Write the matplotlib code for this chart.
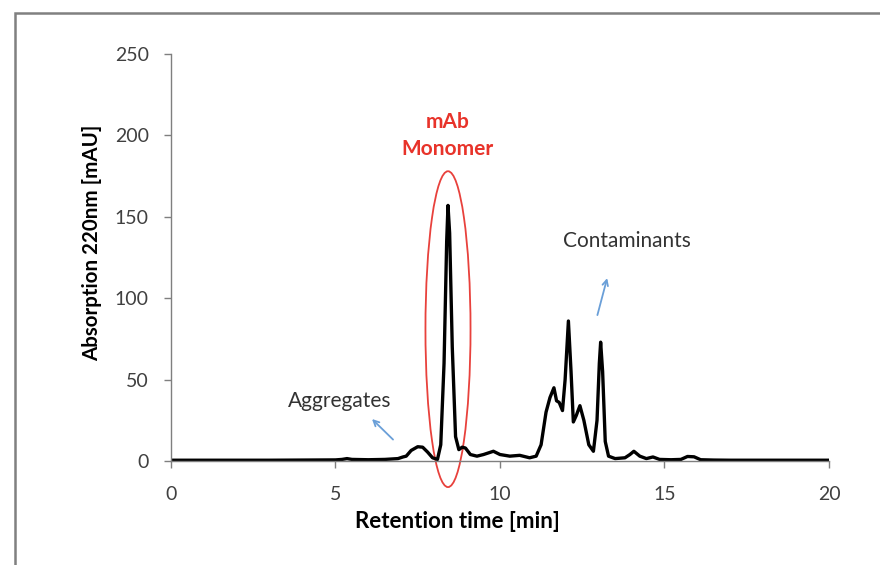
import matplotlib.pyplot as plt
from matplotlib.patches import Ellipse, Rectangle

# chromatogram (retention time [min], absorption [mAU])
time_min = [0, 1, 2, 3, 4, 5, 5.2, 5.35, 5.5, 6, 6.5, 6.9, 7.05, 7.15, 7.3, 7.5,
            7.65, 7.8, 7.95, 8.1, 8.2, 8.3, 8.38, 8.42, 8.47, 8.55, 8.65, 8.75,
            8.85, 8.95, 9.1, 9.3, 9.5, 9.8, 10.0, 10.3, 10.6, 10.9, 11.1, 11.25,
            11.4, 11.52, 11.64, 11.72, 11.8, 11.9, 11.98, 12.08, 12.16, 12.23,
            12.32, 12.43, 12.55, 12.7, 12.84, 12.95, 13.02, 13.06, 13.12, 13.2,
            13.3, 13.5, 13.8, 13.95, 14.07, 14.25, 14.45, 14.65, 14.85, 15.2,
            15.5, 15.7, 15.9, 16.1, 16.5, 17, 18, 19, 20]
absorption = [0.5, 0.5, 0.5, 0.5, 0.6, 0.7, 1.0, 1.5, 1.0, 0.8, 1.0, 1.5, 2.5,
              3.0, 6.5, 8.8, 8.5, 5.5, 2.0, 1.0, 10, 60, 135, 157, 140, 70, 15,
              7, 8.5, 8, 4, 3, 4, 6, 4, 3, 3.5, 2, 3, 10, 30, 39, 45, 37, 36,
              31, 50, 86, 55, 24, 28, 34, 25, 10, 6, 25, 60, 73, 55, 12, 3, 1.5,
              2, 4, 6, 3, 1.5, 2.5, 1.0, 0.8, 1.0, 2.8, 2.6, 0.8, 0.6, 0.5, 0.5,
              0.5, 0.5]

x_ticks = [0, 5, 10, 15, 20]
y_ticks = [0, 50, 100, 150, 200, 250]

font = 'Lato'
grey = '#7f7f7f'
tick_col = '#404040'
arrow_col = '#6a9fd8'

fig = plt.figure(figsize=(8.8, 5.65), dpi=100)
ax = fig.add_axes([0.1943, 0.184, 0.7477, 0.7204])

# frame around the figure (right/bottom edges run off the picture)
fig.patches.append(Rectangle((15 / 880, -0.05), 1.2, 1 - 13 / 565 + 0.05,
                             transform=fig.transFigure, fill=False,
                             edgecolor='#808080', lw=1.8))

ax.plot(time_min, absorption, color='black', lw=2.4, solid_joinstyle='round')

ax.set_xlim(0, 20)
ax.set_ylim(0, 250)
ax.set_xticks(x_ticks)
ax.set_yticks(y_ticks)
ax.spines['top'].set_visible(False)
ax.spines['right'].set_visible(False)
for s in ['left', 'bottom']:
    ax.spines[s].set_color(grey)
    ax.spines[s].set_linewidth(1.0)
ax.tick_params(axis='both', direction='out', length=5, width=1.0, color=grey,
               labelsize=14, labelcolor=tick_col)
ax.tick_params(axis='y', pad=11)
ax.tick_params(axis='x', pad=13)
for lab in ax.get_xticklabels() + ax.get_yticklabels():
    lab.set_family(font)

ax.set_xlabel('Retention time [min]', fontsize=16, fontweight='bold',
              family=font)
ax.set_ylabel('Absorption 220nm [mAU]', fontsize=14.8, fontweight='bold',
              family=font)
ax.xaxis.set_label_coords(0.436, -0.123)
ax.yaxis.set_label_coords(-0.104, 0.536)

# monomer ellipse + label
ax.add_patch(Ellipse((8.42, 81), 1.37, 194, fill=False, edgecolor='#e8413c',
                     lw=1.3, clip_on=False))
ax.text(8.42, 200, 'mAb\nMonomer', color='#e8332a', fontsize=15,
        fontweight='bold', family=font, ha='center', va='center',
        linespacing=1.4)

ax.text(13.86, 135, 'Contaminants', fontsize=15, family=font,
        color='#333333', ha='center', va='center')
ax.annotate('', xy=(13.28, 114), xytext=(12.94, 88),
            arrowprops=dict(arrowstyle='->', color=arrow_col, lw=1.3))

ax.text(5.13, 37, 'Aggregates', fontsize=15, family=font,
        color='#333333', ha='center', va='center')
ax.annotate('', xy=(6.05, 27), xytext=(6.81, 12),
            arrowprops=dict(arrowstyle='->', color=arrow_col, lw=1.3))

plt.savefig('out.png', dpi=100)
